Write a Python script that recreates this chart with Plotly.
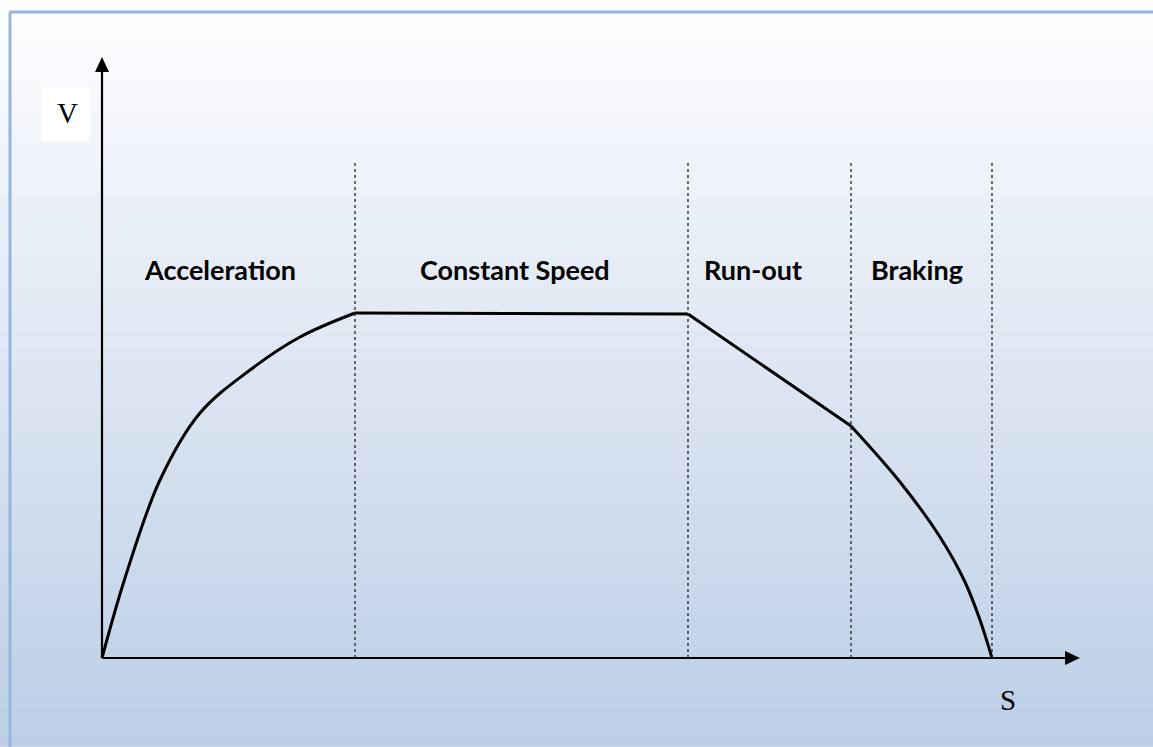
import plotly.graph_objects as go
import numpy as np

# ---- data (S = distance, V = speed, arbitrary units) ----
acc_s = [0, 23, 58, 98, 148, 198, 253]
acc_v = [0, 80, 178, 245, 288, 321, 345]
const_s = [253, 586]
const_v = [345, 344]
run_s = [586, 749]
run_v = [344, 232]
brake_s = [749, 798, 838, 863, 878, 890]
brake_v = [232, 176, 121, 76, 38, 0]
phase_bounds = [253, 586, 749, 890]
phase_names = ["Acceleration", "Constant Speed", "Run-out", "Braking"]
phase_label_s = [118, 413, 651, 815]
s_axis_max = 978
v_axis_max = 601
divider_top = 496
label_v = 389

W, H = 1153, 747
x0, y0 = 102, 658  # pixel position of origin
xr = [-x0, W - x0]
yr = [y0 - H, y0]

fig = go.Figure()

# gradient background via heatmap
gy = np.linspace(y0 - 12, y0 - H, 60)
gz = [[v, v] for v in gy]
fig.add_trace(go.Heatmap(
    x=[xr[0] + 10, xr[1] + 5], y=gy, z=gz, zsmooth="best", showscale=False,
    colorscale=[[0, "#bbcee6"], [1, "#fdfdff"]], hoverinfo="skip"))

# border lines (top, left)
fig.add_shape(type="line", x0=xr[0] + 9.5, x1=xr[1] + 5, y0=y0 - 12, y1=y0 - 12,
              line=dict(color="#9ab5dc", width=3))
fig.add_shape(type="line", x0=xr[0] + 10, x1=xr[0] + 10, y0=y0 - 12, y1=yr[0] - 5,
              line=dict(color="#9ab5dc", width=3))

# white box behind V
fig.add_shape(type="rect", x0=-61, x1=-12, y0=516, y1=571, fillcolor="white",
              line=dict(width=0), layer="above")

# dividers
for b in phase_bounds:
    fig.add_shape(type="line", x0=b, x1=b, y0=0, y1=divider_top,
                  line=dict(color="#222222", width=1.3, dash="dot"))

# axes
ax_line = dict(color="black", width=2.2)
fig.add_trace(go.Scatter(x=[0, 0], y=[0, v_axis_max - 12], mode="lines", line=ax_line, hoverinfo="skip"))
fig.add_trace(go.Scatter(x=[0, s_axis_max - 12], y=[0, 0], mode="lines", line=ax_line, hoverinfo="skip"))
fig.add_shape(type="path", path=f"M -7 {v_axis_max-15} L 7 {v_axis_max-15} L 0 {v_axis_max} Z",
              fillcolor="black", line=dict(width=0))
fig.add_shape(type="path", path=f"M {s_axis_max-15} -7 L {s_axis_max-15} 7 L {s_axis_max} 0 Z",
              fillcolor="black", line=dict(width=0))

cl = dict(color="black", width=3)
fig.add_trace(go.Scatter(x=acc_s, y=acc_v, mode="lines", line=dict(shape="spline", smoothing=1.0, **cl), hoverinfo="skip"))
fig.add_trace(go.Scatter(x=const_s, y=const_v, mode="lines", line=cl, hoverinfo="skip"))
fig.add_trace(go.Scatter(x=run_s, y=run_v, mode="lines", line=cl, hoverinfo="skip"))
fig.add_trace(go.Scatter(x=brake_s, y=brake_v, mode="lines", line=dict(shape="spline", smoothing=1.0, **cl), hoverinfo="skip"))

for name, s in zip(phase_names, phase_label_s):
    fig.add_annotation(x=s, y=label_v, text=f"<b>{name}</b>", showarrow=False,
                       font=dict(family="Lato", size=27, color="black"))

fig.add_annotation(x=-35, y=545, text="V", showarrow=False,
                   font=dict(family="Liberation Serif", size=29, color="black"))
fig.add_annotation(x=906, y=-42, text="S", showarrow=False,
                   font=dict(family="Liberation Serif", size=29, color="black"))

fig.update_layout(
    width=W, height=H, margin=dict(l=0, r=0, t=0, b=0),
    paper_bgcolor="white", plot_bgcolor="white", showlegend=False,
    xaxis=dict(range=xr, visible=False, fixedrange=True),
    yaxis=dict(range=yr, visible=False, fixedrange=True),
)
fig.write_html("out.html", config={"displayModeBar": False},
               post_script="document.body.style.margin='0';document.body.style.overflow='hidden';")
